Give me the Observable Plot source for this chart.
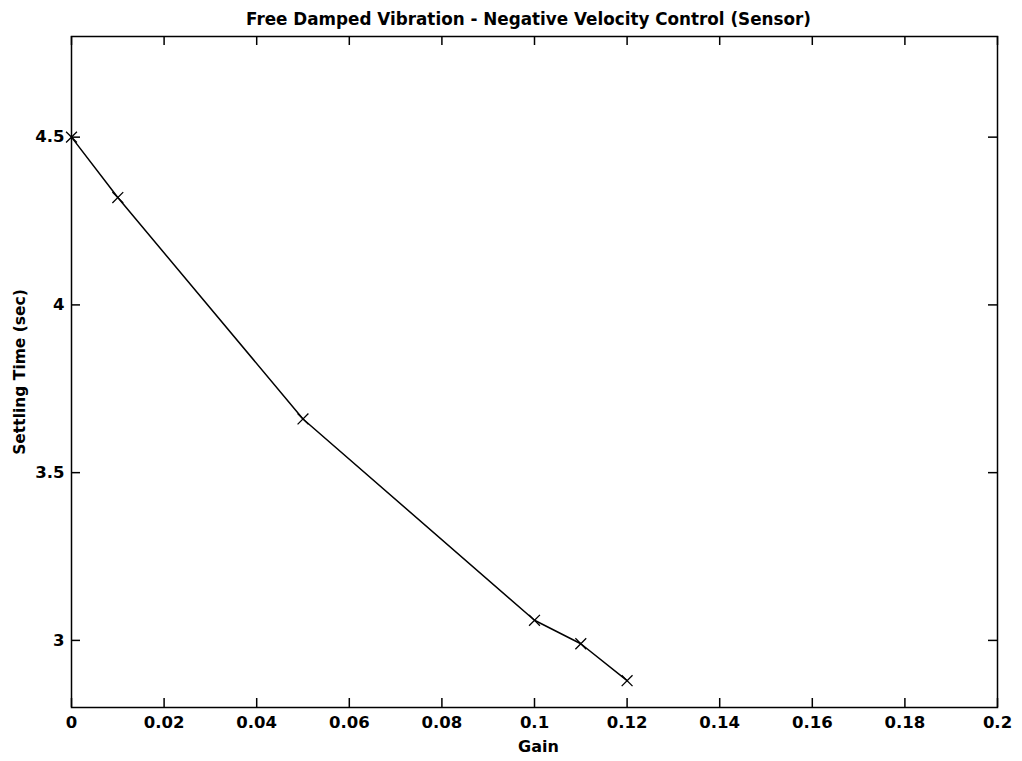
<!DOCTYPE html>
<html><head>
<meta charset="utf-8">
<script src="https://cdn.jsdelivr.net/npm/d3@7"></script>
<script src="https://cdn.jsdelivr.net/npm/@observablehq/plot@0.6"></script>
<style>body{margin:0;background:#fff}</style>
</head><body><div id="chart"></div>
<script>
const gain = [0, 0.01, 0.05, 0.1, 0.11, 0.12];
const settlingTime = [4.5, 4.32, 3.66, 3.06, 2.99, 2.88];
const xTicks = [0, 0.02, 0.04, 0.06, 0.08, 0.1, 0.12, 0.14, 0.16, 0.18, 0.2];
const yTicks = [3, 3.5, 4, 4.5];
const titleText = "Free Damped Vibration - Negative Velocity Control (Sensor)";
const xLabel = "Gain";
const yLabel = "Settling Time (sec)";

const data = gain.map((g, i) => ({gain: g, t: settlingTime[i]}));
const W = 1022, H = 761, mt = 36, mb = 54, ml = 71, mr = 25;
const iw = W - ml - mr, ih = H - mt - mb;
const tk = 9;
const fmt = d => String(+d.toFixed(2));

const chart = Plot.plot({
  width: W, height: H,
  marginTop: mt, marginBottom: mb, marginLeft: ml, marginRight: mr,
  x: {domain: [0, 0.2], label: null},
  y: {domain: [2.8, 4.8], label: null},
  style: {fontFamily: "'DejaVu Sans', Verdana, sans-serif", fontSize: "16px", fontWeight: "bold", color: "#000", background: "#fff"},
  marks: [
    Plot.frame({stroke: "#000", strokeWidth: 1.5}),
    Plot.tickX(xTicks, {x: d => d, insetTop: ih - tk, stroke: "#000", strokeWidth: 1.5}),
    Plot.tickX(xTicks, {x: d => d, insetBottom: ih - tk, stroke: "#000", strokeWidth: 1.5}),
    Plot.tickY(yTicks, {y: d => d, insetRight: iw - tk, stroke: "#000", strokeWidth: 1.5}),
    Plot.tickY(yTicks, {y: d => d, insetLeft: iw - tk, stroke: "#000", strokeWidth: 1.5}),
    Plot.axisX(xTicks, {tickSize: 0, tickPadding: 9, tickFormat: fmt, label: null, fontSize: 16.5}),
    Plot.axisY(yTicks, {tickSize: 0, tickPadding: 7, tickFormat: fmt, label: null, fontSize: 16.5}),
    Plot.line(data, {x: "gain", y: "t", stroke: "#000", strokeWidth: 1.5}),
    Plot.dot(data, {x: "gain", y: "t", symbol: "times", r: 5, stroke: "#000", strokeWidth: 1.3}),
    Plot.text([titleText], {text: d => d, frameAnchor: "top", dy: -23, dx: -6, fontSize: 16.8}),
    Plot.text([xLabel], {text: d => d, frameAnchor: "bottom", lineAnchor: "top", dy: 33, dx: 4, fontSize: 16}),
    Plot.text([yLabel], {text: d => d, frameAnchor: "left", textAnchor: "middle", dx: -51, rotate: -90, fontSize: 15.5})
  ]
});
document.getElementById("chart").appendChild(chart);
</script>
</body></html>
